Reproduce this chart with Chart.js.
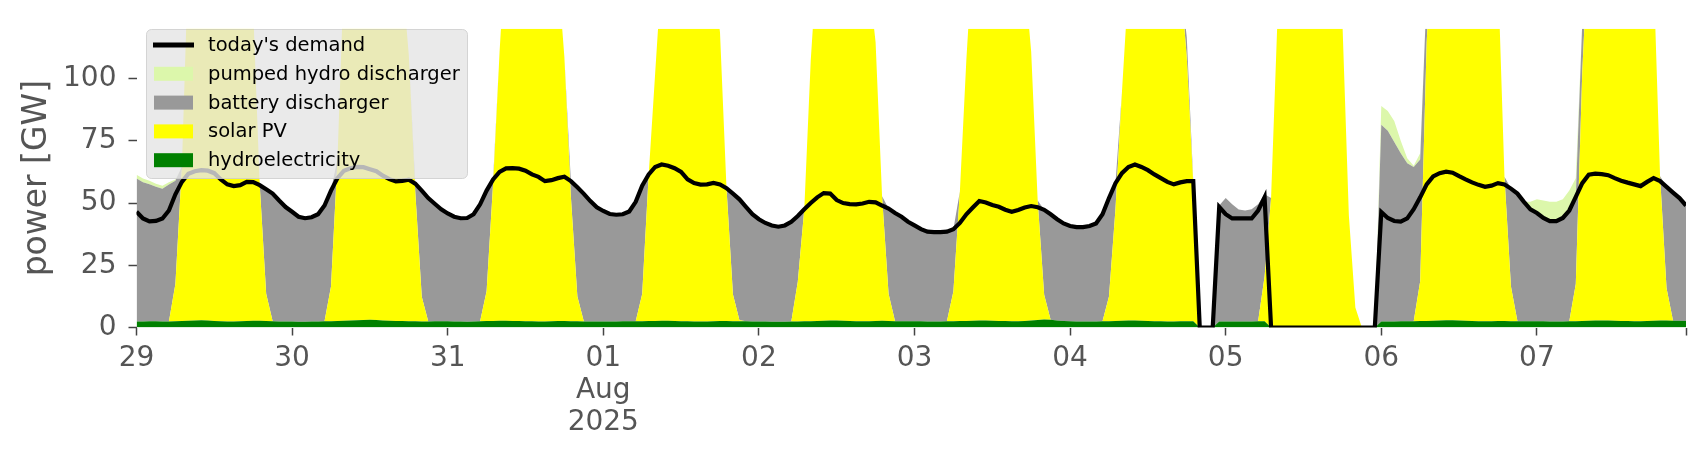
<!DOCTYPE html>
<html>
<head>
<meta charset="utf-8">
<script src="https://cdn.jsdelivr.net/npm/chart.js@4.4.1/dist/chart.umd.min.js"></script>
<style>
  html, body { margin: 0; padding: 0; background: #fff; }
  #chart { display: block; }
</style>
</head>
<body>
<canvas id="chart" width="1706" height="460"></canvas>
<script>
// hourly values, Jul 29 00:00 .. Aug 07 23:00 (GW)
const dayTicks = [0, 24, 48, 72, 96, 120, 144, 168, 192, 216, 239];
const dayLabels = ['29', '30', '31', ['01', 'Aug', '2025'], '02', '03', '04', '05', '06', '07', ''];

const demand = [
  46.5,43.8,42.6,42.8,43.8,47,53.5,58.5,61.8,62.8,63.2,63,62,59.5,57.5,56.8,57.2,58.5,58.4,57.2,55.5,53.8,51,48.4,
  46.5,44.5,43.9,44.3,45.5,49,55,60,63,64,64.5,64.4,63.6,62.8,61,59.6,58.7,58.9,59.4,57.8,55,52,49.7,47.5,
  45.8,44.5,43.9,44,45.5,49.5,55,59.5,62.5,63.9,64,63.8,63,61.5,60.5,58.8,59.2,60,60.6,58.8,56.3,53.7,50.8,48.3,
  46.8,45.6,45.3,45.5,46.6,50.5,57,61.5,64.5,65.5,65,64,62.5,59.5,58,57.4,57.5,58.1,57.5,56,53.8,51.5,48.5,45.5,
  43.5,42,41,40.5,41,42.5,44.8,47.5,50,52.3,54,53.8,51.2,50,49.6,49.5,49.8,50.5,50.3,49,47.8,46,44.5,42.5,
  41,39.5,38.5,38.3,38.3,38.5,39.5,42,45.5,48.2,50.8,50.2,49.2,48.5,47.3,46.5,47.2,48.2,48.8,48.3,47.3,45.5,43.5,41.8,
  40.8,40.3,40.3,40.8,41.8,45.5,52,58,62,64.5,65.5,64.5,63.2,61.5,60,58.5,57.5,58.3,58.8,58.8,0,0,0,48.4,
  45.5,43.8,43.8,43.8,43.8,47,52.3,0,0,0,0,0,0,0,0,0,0,0,0,0,0,0,0,0,
  46.4,44,42.8,42.5,43.8,47.5,52.3,57.5,60.7,62,62.6,62.2,60.8,59.5,58.3,57.3,56.5,57,58,57.5,55.8,53.8,50.5,47.5,
  46,44,42.7,42.7,44,47,52.5,58,61.4,61.8,61.6,61.2,60,59,58.2,57.5,56.8,58.5,60,58.8,56.5,54.2,52,49
];

const hydro = [
  2.4,2.4,2.5,2.5,2.4,2.4,2.5,2.6,2.7,2.8,2.9,2.8,2.6,2.5,2.4,2.4,2.5,2.6,2.7,2.7,2.6,2.5,2.4,2.4,
  2.4,2.3,2.3,2.4,2.4,2.5,2.5,2.6,2.7,2.8,2.9,3.0,3.1,3.0,2.8,2.7,2.6,2.6,2.5,2.5,2.4,2.4,2.5,2.5,
  2.5,2.4,2.4,2.3,2.4,2.5,2.6,2.6,2.7,2.7,2.6,2.6,2.5,2.5,2.4,2.4,2.5,2.6,2.6,2.5,2.5,2.4,2.4,2.4,
  2.4,2.4,2.4,2.5,2.5,2.5,2.5,2.6,2.6,2.7,2.7,2.6,2.5,2.5,2.4,2.4,2.4,2.5,2.6,2.6,2.5,2.5,2.5,2.4,
  2.4,2.4,2.3,2.3,2.3,2.4,2.4,2.5,2.5,2.6,2.7,2.8,2.8,2.7,2.6,2.5,2.5,2.5,2.6,2.7,2.6,2.5,2.5,2.5,
  2.5,2.5,2.4,2.4,2.4,2.5,2.5,2.6,2.6,2.7,2.8,2.8,2.7,2.6,2.6,2.5,2.5,2.6,2.8,3.0,3.2,3.1,2.8,2.6,
  2.5,2.4,2.4,2.4,2.4,2.5,2.5,2.6,2.7,2.8,2.8,2.7,2.6,2.5,2.5,2.4,2.4,2.5,2.5,2.5,0,0,0,2.4,
  2.4,2.4,2.4,2.4,2.4,2.5,2.5,0,0,0,0,0,0,0,0,0,0,0,0,0,0,0,0,0,
  2.4,2.4,2.4,2.5,2.5,2.5,2.6,2.6,2.7,2.8,2.9,2.9,2.8,2.7,2.6,2.5,2.5,2.5,2.6,2.6,2.5,2.5,2.5,2.5,
  2.5,2.5,2.4,2.4,2.4,2.5,2.5,2.6,2.7,2.8,2.8,2.8,2.7,2.6,2.6,2.5,2.5,2.6,2.7,2.8,2.8,2.7,2.7,2.6
];

const solar = [
  0,0,0,0,0,0,15,62,146,188,212,224,226,218,200,176,152,140,125,55,11,0,0,0,
  0,0,0,0,0,0,14,65,140,182,205,216,220,214,198,172,150,138,107,52,10,0,0,0,
  0,0,0,0,0,0,12,55,108,152,184,200,206,198,185,168,148,140,106,50,10,0,0,0,
  0,0,0,0,0,0,11,58.8,99.5,140,175,195,202,196,180,160,142,138,116,53.5,10.8,0.4,0,0,
  0,0,0,0,0,0,16,45,105,145,178,196,204,198,182,163,145,136,112,50,11,0,0,0,
  0,0,0,0,0,0,12,52,105,148,180,198,205,200,184,165,146,138,108,48,10,0,0,0,
  0,0,0,0,0,0,10,45,92,135,170,190,198,192,178,160,142,138,106,55,0,0,0,0,
  0,0,0,0,0,0,18,52,125,165,195,210,215,210,195,175,158,145,123,45,8,0,0,0,
  0,0,0,0,0,0,16,112,160,195,215,225,228,222,206,186,165,150,140,58,14,0,0,0,
  0,0,0,0,0,0,15,100,155,190,210,220,222,215,200,180,160,148,140,58,13,0,0,0
];

const battery = [
  57.5,56,55,54,53.3,55,41.5,0,0,0,0,0,0,0,0,0,0,0,0,0,42,51.3,48.6,46,
  44.1,42.2,41.6,41.9,43.1,46.5,38.5,0,0,0,0,0,0,0,0,0,0,0,0,3.3,42.6,49.6,47.2,45,
  43.3,42.1,41.5,41.7,43.1,47,40.4,1.9,0,0,0,0,0,0,0,0,0,0,0,6.3,43.8,51.3,48.4,45.9,
  44.4,43.2,42.9,43,44.1,48,43.5,0,0,0,0,0,0,0,0,0,0,0,0,0,40.5,48.6,46,43.1,
  41.1,39.6,38.7,38.2,38.7,40.1,26.4,0,0,0,0,0,0,0,0,0,0,0,0,0,34.2,43.5,42,40,
  38.5,37,36.1,35.9,35.9,36,25,0,0,0,0,0,0,0,0,0,0,0,0,0,34.1,42.4,40.7,39.2,
  38.3,37.9,37.9,38.4,39.4,43,39.5,10.4,0,0,0,0,0,0,0,0,0,0,8,1.3,0,0,0,46.6,
  49.6,47.1,45,44.6,45.1,47,33,0,0,0,0,0,0,0,0,0,0,0,0,0,0,0,0,0,
  79.1,76.6,72.1,67.5,63.5,62,48.9,20,0,0,0,0,0,0,0,0,0,0,0,0,39.3,51.3,48,45,
  43,41,39.8,39.8,41.1,44.5,35,20,0,0,0,0,0,0,0,0,0,0,0,0,40.7,51.5,49.3,46.4
];

const pumped = [
  1.5,1.5,1.5,1.3,1.2,1,0.5,0,0,0,0,0,0,0,0,0,0,0,0,0,0,0,0,0,
  0,0,0,0,0,0,0,0,0,0,0,0,0,0,0,0,0,0,0,0,0,0,0,0,
  0,0,0,0,0,0,0,0,0,0,0,0,0,0,0,0,0,0,0,0,0,0,0,0,
  0,0,0,0,0,0,0,0,0,0,0,0,0,0,0,0,0,0,0,0,0,0,0,0,
  0,0,0,0,0,0,0,0,0,0,0,0,0,0,0,0,0,0,0,0,0,0,0,0,
  0,0,0,0,0,0,0,0,0,0,0,0,0,0,0,0,0,0,0,0,0,0,0,0,
  0,0,0,0,0,0,0,0,0,0,0,0,0,0,0,0,0,0,0,0,0,0,0,0,
  0,0,0,0,0,0,0,0,0,0,0,0,0,0,0,0,0,0,0,0,0,0,0,0,
  7.5,8,8.5,5,2,0.5,2.5,0,0,0,0,0,0,0,0,0,0,0,0,0,0,0,0,3,
  6,7.5,8.3,8.3,8,8,7.5,0,0,0,0,0,0,0,0,0,0,0,0,0,0,0,0,0
];

const xy = arr => arr.map((y, i) => ({ x: i, y: y }));

const area = (label, data, color, fill) => ({
  label: label,
  data: xy(data),
  backgroundColor: color,
  borderColor: 'transparent',
  borderWidth: 0,
  pointRadius: 0,
  fill: fill,
  stack: 'supply',
  order: 1
});

const font = 'DejaVu Sans';

// legend drawn inside the plot, matplotlib style
const boxLegend = {
  id: 'boxLegend',
  afterDraw(chart) {
    const ctx = chart.ctx;
    const rows = [4, 3, 2, 1, 0];
    ctx.save();
    ctx.beginPath();
    ctx.roundRect(146.5, 29.5, 321, 149, 5);
    ctx.fillStyle = 'rgba(229,229,229,0.8)';
    ctx.fill();
    ctx.strokeStyle = 'rgba(204,204,204,0.8)';
    ctx.lineWidth = 1;
    ctx.stroke();
    ctx.font = '19.5px "' + font + '"';
    ctx.textBaseline = 'middle';
    rows.forEach((idx, r) => {
      const ds = chart.data.datasets[idx];
      const y = 45 + r * 28.8;
      if (ds.fill === false) {
        ctx.strokeStyle = ds.borderColor;
        ctx.lineWidth = 5;
        ctx.beginPath();
        ctx.moveTo(153, y);
        ctx.lineTo(194, y);
        ctx.stroke();
      } else {
        ctx.fillStyle = ds.backgroundColor;
        ctx.fillRect(154, y - 7, 39, 14);
      }
      ctx.fillStyle = '#000';
      ctx.fillText(ds.label, 208, y + 1);
    });
    ctx.restore();
  }
};

new Chart(document.getElementById('chart'), {
  type: 'line',
  data: {
    datasets: [
      area('hydroelectricity', hydro, '#008000', 'origin'),
      area('solar PV', solar, '#ffff00', '-1'),
      area('battery discharger', battery, '#999999', '-1'),
      area('pumped hydro discharger', pumped, '#dcf7ab', '-1'),
      {
        label: "today's demand",
        data: xy(demand),
        borderColor: '#000',
        borderWidth: 4.2,
        pointRadius: 0,
        fill: false,
        tension: 0,
        stack: 'demand',
        order: 0
      }
    ]
  },
  options: {
    responsive: false,
    animation: false,
    devicePixelRatio: 1,
    layout: { padding: { top: 19.6, right: 20, left: 0, bottom: 0 } },
    plugins: {
      legend: { display: false },
      tooltip: { enabled: false }
    },
    scales: {
      x: {
        type: 'linear',
        min: 0,
        max: 239,
        afterBuildTicks: s => { s.ticks = dayTicks.map(v => ({ value: v })); },
        afterFit: s => { s.height = 132.5; },
        border: { display: false },
        grid: { drawOnChartArea: false, tickLength: 8, tickColor: '#444', tickWidth: 1.5 },
        ticks: {
          autoSkip: false,
          maxRotation: 0,
          padding: 7,
          color: '#555',
          font: { family: font, size: 28, lineHeight: 1.15 },
          callback: (v, i) => dayLabels[i]
        }
      },
      y: {
        stacked: true,
        min: 0,
        max: 120,
        afterFit: s => { s.width = 136.5; },
        border: { display: false },
        grid: { drawOnChartArea: false, tickLength: 8, tickColor: '#444', tickWidth: 1.5 },
        ticks: {
          stepSize: 25,
          includeBounds: false,
          padding: 12,
          color: '#555',
          font: { family: font, size: 28 }
        },
        title: {
          display: true,
          text: 'power [GW]',
          color: '#555',
          padding: { top: 18, bottom: 0 },
          font: { family: font, size: 33 }
        }
      }
    }
  },
  plugins: [boxLegend]
});
</script>
</body>
</html>
